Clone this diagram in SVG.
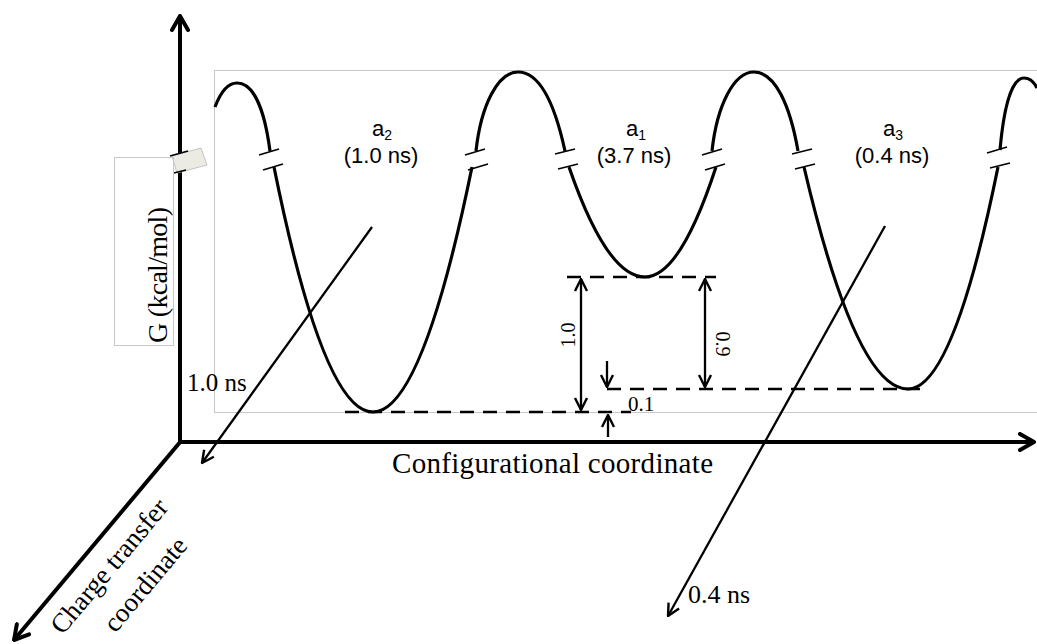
<svg xmlns="http://www.w3.org/2000/svg" width="1037" height="644" viewBox="0 0 1037 644">
<style>
.serif{font-family:"Liberation Serif","Times New Roman",serif;fill:#000}
.sans{font-family:"Liberation Sans",Arial,sans-serif;fill:#000;font-size:22px}
.curve{fill:none;stroke:#000;stroke-width:3.2}
.brk{stroke:#000;stroke-width:1.6;fill:none}
.dash{stroke:#000;stroke-width:2.5;stroke-dasharray:14 9;fill:none}
.axis{stroke:#000;stroke-width:4;fill:none}
.thin{stroke:#000;stroke-width:2.3;fill:none}
.frame{fill:none;stroke:#c8c8c8;stroke-width:1}
</style>
<defs>
<marker id="axArrow" viewBox="0 0 20 20" refX="18" refY="10" markerWidth="20" markerHeight="20" orient="auto" markerUnits="userSpaceOnUse">
<path d="M4,2 L18,10 L4,18" fill="none" stroke="#000" stroke-width="4" stroke-linecap="round" stroke-linejoin="round"/>
</marker>
<marker id="thinArrow" viewBox="0 0 16 16" refX="15" refY="8" markerWidth="16" markerHeight="16" orient="auto-start-reverse" markerUnits="userSpaceOnUse">
<path d="M3,2 L15,8 L3,14" fill="none" stroke="#000" stroke-width="2.4" stroke-linejoin="round"/>
</marker>
</defs>
<rect width="1037" height="644" fill="#fff"/>

<g id="frame">
<rect class="frame" x="214.5" y="70.5" width="840" height="342"/>
</g>

<g id="axes">
<line class="axis" x1="180" y1="444" x2="180" y2="16" marker-end="url(#axArrow)"/>
<line class="axis" x1="178" y1="442" x2="1034" y2="442" marker-end="url(#axArrow)"/>
<line class="axis" x1="181" y1="441" x2="14" y2="640" marker-end="url(#axArrow)"/>
</g>

<g id="axis-break">
<polygon points="172,156 201,148 207,165 177,173" fill="#ecebe3" stroke="#c4c4c4" stroke-width="1"/>
<line class="brk" x1="170" y1="156" x2="188" y2="151" stroke-width="2"/>
<line class="brk" x1="174" y1="173" x2="186" y2="170" stroke-width="2"/>
</g>

<g id="ylabel">
<rect class="frame" x="114.5" y="157.5" width="59" height="188" fill="#fff"/>
<text class="serif" font-size="28" text-anchor="middle" transform="translate(167,275) rotate(-90)" textLength="136">G (kcal/mol)</text>
</g>

<g id="curve">
<path class="curve" d="M215,107 C221,91 229,83 237,83 C252,83 264,105 270,151"/>
<path class="curve" d="M274,167 Q323.5,412 373,412 Q422,412 472,167"/>
<path class="curve" d="M476,151 C481,105 498,72 518,72 C540,72 555,105 565,151"/>
<path class="curve" d="M569,167 Q607,277 645,277 Q680,277 716,167"/>
<path class="curve" d="M712,151 C717,105 734,72 754,72 C775,72 790,105 798,151"/>
<path class="curve" d="M804,167 Q856,389 908,389 Q953,389 998,167"/>
<path class="curve" d="M1000,150 C1004,105 1012,78 1024,78 C1030,78 1034,82 1037,88"/>
</g>

<g id="breaks">
<line class="brk" x1="259" y1="155" x2="279" y2="149"/><line class="brk" x1="263" y1="170" x2="283" y2="164"/>
<line class="brk" x1="465" y1="155" x2="485" y2="149"/><line class="brk" x1="468" y1="170" x2="488" y2="164"/>
<line class="brk" x1="555" y1="154" x2="575" y2="149"/><line class="brk" x1="558" y1="169" x2="578" y2="164"/>
<line class="brk" x1="702" y1="155" x2="722" y2="149"/><line class="brk" x1="705" y1="170" x2="725" y2="164"/>
<line class="brk" x1="792" y1="154" x2="812" y2="149"/><line class="brk" x1="795" y1="169" x2="815" y2="164"/>
<line class="brk" x1="987" y1="153" x2="1007" y2="147"/><line class="brk" x1="990" y1="168" x2="1010" y2="163"/>
</g>

<g id="state-a2">
<text class="sans" x="382" y="136" text-anchor="middle">a<tspan font-size="14" dy="4">2</tspan></text>
<text class="sans" x="381" y="163" text-anchor="middle">(1.0 ns)</text>
</g>
<g id="state-a1">
<text class="sans" x="636" y="136" text-anchor="middle">a<tspan font-size="14" dy="4">1</tspan></text>
<text class="sans" x="634" y="163" text-anchor="middle">(3.7 ns)</text>
</g>
<g id="state-a3">
<text class="sans" x="893" y="136" text-anchor="middle">a<tspan font-size="14" dy="4">3</tspan></text>
<text class="sans" x="892" y="163" text-anchor="middle">(0.4 ns)</text>
</g>

<g id="connectors">
<line class="dash" x1="345" y1="412" x2="631" y2="412"/>
<line class="dash" x1="567" y1="277" x2="716" y2="277"/>
<line class="dash" x1="607" y1="389" x2="928" y2="389"/>
<line class="thin" x1="581" y1="279" x2="581" y2="410" marker-start="url(#thinArrow)" marker-end="url(#thinArrow)"/>
<line class="thin" x1="705" y1="279" x2="705" y2="387" marker-start="url(#thinArrow)" marker-end="url(#thinArrow)"/>
<line class="thin" x1="607" y1="361" x2="607" y2="387" marker-end="url(#thinArrow)"/>
<line class="thin" x1="608" y1="437" x2="608" y2="415" marker-end="url(#thinArrow)"/>
<line class="thin" x1="372" y1="227" x2="202" y2="463" marker-end="url(#thinArrow)"/>
<line class="thin" x1="885" y1="226" x2="668" y2="616" marker-end="url(#thinArrow)"/>
</g>

<g id="dim-labels">
<text class="serif" font-size="20" text-anchor="middle" transform="translate(575,335) rotate(-90)">1.0</text>
<text class="serif" font-size="20" text-anchor="middle" transform="translate(716,344) rotate(90)">0.9</text>
<text class="serif" font-size="21" x="628" y="411">0.1</text>
<text class="serif" font-size="25" x="187" y="391">1.0 ns</text>
<text class="serif" font-size="26" x="688" y="603">0.4 ns</text>
</g>

<g id="axis-labels">
<text class="serif" font-size="29" x="392" y="473" textLength="321">Configurational coordinate</text>
<text class="serif" font-size="27" text-anchor="middle" transform="translate(116,572) rotate(-50)">Charge transfer</text>
<text class="serif" font-size="27" text-anchor="middle" transform="translate(152,590) rotate(-50)">coordinate</text>
</g>
</svg>
